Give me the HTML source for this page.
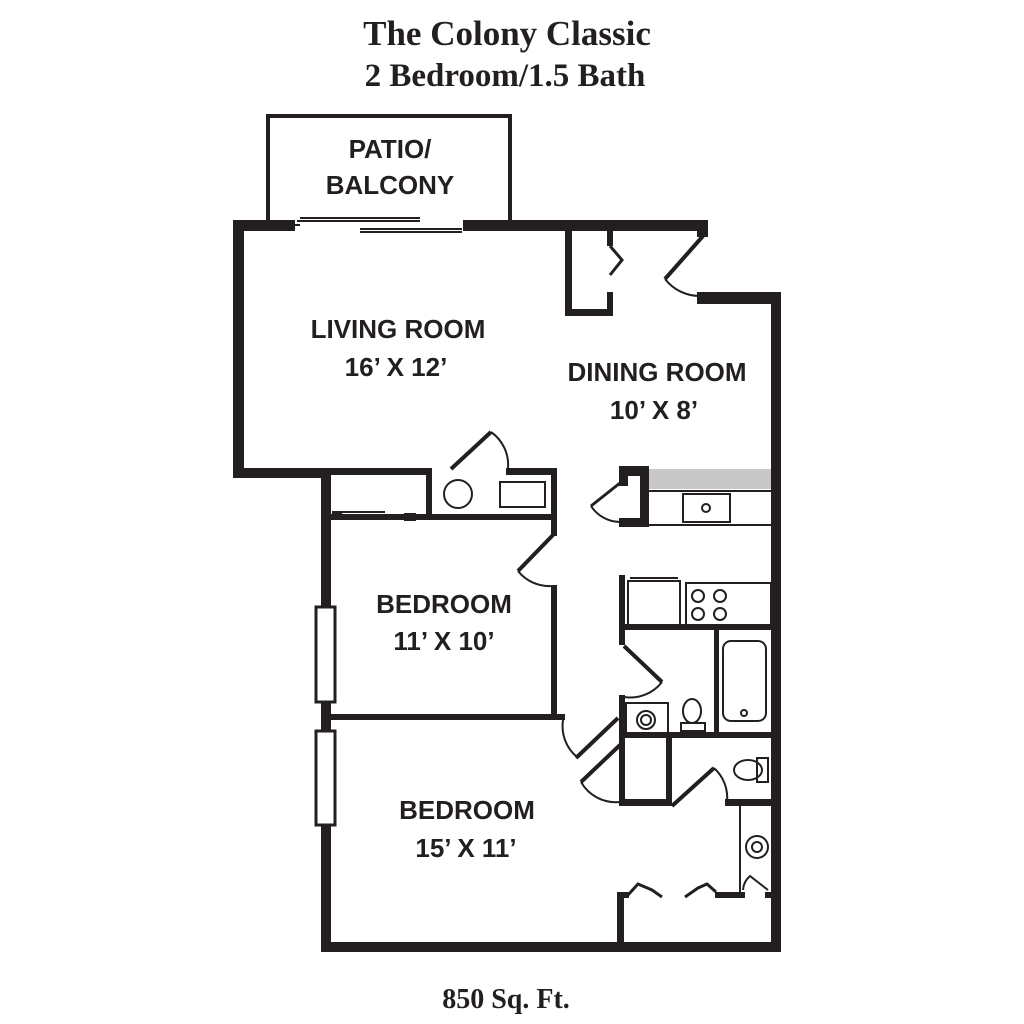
<!DOCTYPE html>
<html><head><style>body{margin:0;background:#fff}svg{display:block}</style></head><body>
<svg width="1024" height="1024" viewBox="0 0 1024 1024" xmlns="http://www.w3.org/2000/svg">
<rect width="1024" height="1024" fill="#fff"/>
<g font-family="Liberation Serif, serif" font-weight="bold" fill="#231f20" text-anchor="middle">
<text x="507" y="45" font-size="35">The Colony Classic</text>
<text x="505" y="86" font-size="33">2 Bedroom/1.5 Bath</text>
<text x="506" y="1008" font-size="28">850 Sq. Ft.</text>
</g>
<g fill="#231f20">
<rect x="266" y="114" width="4" height="108"/><rect x="508" y="114" width="4" height="108"/><rect x="266" y="114" width="246" height="4"/>
<rect x="233" y="220" width="62" height="11"/>
<rect x="463" y="220" width="245" height="11"/>
<rect x="697" y="220" width="11" height="17"/>
<rect x="233" y="220" width="11" height="258"/>
<rect x="233" y="468" width="98" height="10"/>
<rect x="321" y="468" width="10" height="140"/>
<rect x="321" y="701" width="10" height="30"/>
<rect x="321" y="824" width="10" height="128"/>
<rect x="321" y="942" width="460" height="10"/>
<rect x="771" y="296" width="10" height="656"/>
<rect x="697" y="292" width="84" height="12"/>
<rect x="565" y="230" width="7" height="86"/>
<rect x="565" y="309" width="48" height="7"/>
<rect x="607" y="292" width="6" height="24"/>
<rect x="607" y="230" width="6" height="16"/>
<rect x="321" y="468" width="110" height="7"/>
<rect x="426" y="468" width="6" height="52"/>
<rect x="506" y="468" width="51" height="7"/>
<rect x="551" y="468" width="6" height="68"/>
<rect x="331" y="514" width="226" height="6"/>
<rect x="551" y="585" width="6" height="135"/>
<rect x="331" y="714" width="234" height="6"/>
<rect x="619" y="466" width="30" height="10"/>
<rect x="640" y="466" width="9" height="61"/>
<rect x="619" y="518" width="30" height="9"/>
<rect x="619" y="466" width="9" height="20"/>
<rect x="619" y="575" width="6" height="55"/>
<rect x="619" y="624" width="152" height="6"/>
<rect x="619" y="695" width="6" height="110"/>
<rect x="619" y="619" width="6" height="26"/>
<rect x="714" y="630" width="5" height="105"/>
<rect x="619" y="732" width="152" height="6"/>
<rect x="619" y="799" width="53" height="7"/>
<rect x="666" y="735" width="6" height="71"/>
<rect x="725" y="799" width="46" height="7"/>
<rect x="617" y="892" width="7" height="54"/>
<rect x="617" y="892" width="12" height="6"/>
<rect x="715" y="892" width="30" height="6"/>
<rect x="765" y="892" width="6" height="6"/>
</g>
<g fill="#fff" stroke="#231f20" stroke-width="3">
<rect x="316" y="607" width="19" height="95"/>
<rect x="316" y="731" width="19" height="94"/>
</g>
<g fill="none" stroke="#231f20" stroke-width="2">
<line x1="297" y1="221" x2="420" y2="221"/><line x1="295" y1="225" x2="300" y2="225"/>
<line x1="360" y1="232" x2="462" y2="232"/><line x1="360" y1="229" x2="462" y2="229"/>
<line x1="300" y1="218" x2="420" y2="218"/>
<polyline points="610,246 622,260 610,275" stroke-width="3"/>
<line x1="703" y1="236" x2="665" y2="279" stroke-width="4"/>
<path d="M665,279 A44,44 0 0 0 700,296"/>
<line x1="451" y1="469" x2="491" y2="432" stroke-width="4"/>
<path d="M491,432 A40,40 0 0 1 508,468"/>
<circle cx="458" cy="494" r="14"/>
<rect x="500" y="482" width="45" height="25"/>
<line x1="335" y1="512" x2="385" y2="512"/><line x1="375" y1="519" x2="412" y2="519"/>
<rect x="333" y="512" width="8" height="5" fill="#231f20"/><rect x="405" y="514" width="10" height="6" fill="#231f20"/>
<line x1="553" y1="535" x2="518" y2="571" stroke-width="4"/>
<path d="M518,571 A40,40 0 0 0 552,586"/>
<path d="M563,720 A40,40 0 0 0 577,757"/>
<line x1="576" y1="758" x2="618" y2="718" stroke-width="4"/>
<line x1="620" y1="745" x2="581" y2="782" stroke-width="4"/>
<path d="M581,782 A40,40 0 0 0 620,802"/>
<line x1="620" y1="483" x2="591" y2="506" stroke-width="3"/>
<path d="M591,506 A35,35 0 0 0 620,522"/>
<rect x="649" y="469" width="122" height="20" fill="#c8c8c8" stroke="none"/>
<line x1="649" y1="491" x2="771" y2="491"/><line x1="649" y1="525" x2="771" y2="525"/>
<rect x="683" y="494" width="47" height="28"/><circle cx="706" cy="508" r="4"/>
<rect x="628" y="581" width="52" height="44"/><line x1="630" y1="578" x2="678" y2="578"/>
<rect x="686" y="583" width="85" height="42"/>
<circle cx="698" cy="596" r="6"/><circle cx="720" cy="596" r="6"/><circle cx="698" cy="614" r="6"/><circle cx="720" cy="614" r="6"/>
<line x1="624" y1="646" x2="662" y2="682" stroke-width="4"/>
<path d="M662,682 A40,40 0 0 1 624,697"/>
<rect x="723" y="641" width="43" height="80" rx="8"/><circle cx="744" cy="713" r="3"/>
<rect x="626" y="703" width="42" height="30"/><circle cx="646" cy="720" r="9"/><circle cx="646" cy="720" r="5"/>
<ellipse cx="692" cy="711" rx="9" ry="12"/><rect x="681" y="723" width="24" height="8"/>
<line x1="672" y1="806" x2="714" y2="768" stroke-width="4"/>
<path d="M714,768 A40,40 0 0 1 727,802"/>
<ellipse cx="748" cy="770" rx="14" ry="10"/><rect x="757" y="758" width="11" height="24"/>
<line x1="740" y1="806" x2="740" y2="893"/>
<circle cx="757" cy="847" r="11"/><circle cx="757" cy="847" r="5"/>
<path d="M743,890 A20,20 0 0 1 750,876 L768,890"/>
<polyline points="628,895 638,884 652,890 662,897" stroke-width="3"/>
<polyline points="685,897 698,888 707,884 716,892" stroke-width="3"/>
</g>
<g font-family="Liberation Sans, sans-serif" font-weight="bold" fill="#231f20" text-anchor="middle" font-size="26">
<text x="398" y="338">LIVING ROOM</text>
<text x="396" y="376">16’ X 12’</text>
<text x="657" y="381">DINING ROOM</text>
<text x="654" y="419">10’ X 8’</text>
<text x="444" y="613">BEDROOM</text>
<text x="444" y="650">11’ X 10’</text>
<text x="467" y="819">BEDROOM</text>
<text x="466" y="857">15’ X 11’</text>
<text x="390" y="158">PATIO/</text>
<text x="390" y="194">BALCONY</text>
</g>
</svg>
</body></html>
